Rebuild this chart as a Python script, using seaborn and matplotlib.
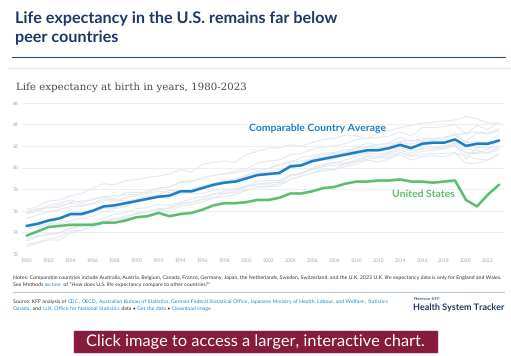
import numpy as np
import pandas as pd
import matplotlib
matplotlib.use("Agg")
import matplotlib.pyplot as plt
from matplotlib.font_manager import FontProperties
from matplotlib.textpath import TextToPath
import seaborn as sns

years = list(range(1980, 2024))

comparable_avg = [
    74.6, 74.8, 75.1, 75.3, 75.7, 75.7, 76.0, 76.4, 76.5, 76.7,
    76.9, 77.1, 77.3, 77.4, 77.8, 77.8, 78.1, 78.4, 78.6, 78.7,
    79.0, 79.3, 79.4, 79.5, 80.1, 80.2, 80.6, 80.8, 81.0, 81.2,
    81.4, 81.6, 81.6, 81.8, 82.1, 81.8, 82.2, 82.3, 82.3, 82.6,
    82.0, 82.2, 82.2, 82.5]

united_states = [
    73.7, 74.1, 74.5, 74.6, 74.7, 74.7, 74.7, 74.9, 74.9, 75.1,
    75.4, 75.5, 75.8, 75.5, 75.7, 75.8, 76.1, 76.5, 76.7, 76.7,
    76.8, 77.0, 77.0, 77.2, 77.6, 77.6, 77.8, 78.1, 78.2, 78.5,
    78.7, 78.7, 78.8, 78.8, 78.9, 78.7, 78.7, 78.6, 78.7, 78.8,
    77.0, 76.4, 77.5, 78.4]

japan = [
    76.1, 76.4, 76.9, 77.0, 77.4, 77.6, 78.1, 78.5, 78.4, 78.8,
    78.9, 79.1, 79.2, 79.4, 79.8, 79.6, 80.3, 80.5, 80.6, 80.5,
    81.2, 81.5, 81.8, 81.8, 82.1, 82.0, 82.3, 82.6, 82.7, 83.0,
    82.9, 82.7, 83.2, 83.4, 83.7, 83.9, 84.1, 84.2, 84.3, 84.4,
    84.7, 84.5, 84.1, 84.1]
switzerland = [
    75.7, 76.0, 76.3, 76.3, 76.8, 76.9, 77.0, 77.3, 77.4, 77.5,
    77.5, 77.8, 78.1, 78.2, 78.6, 78.7, 79.0, 79.3, 79.4, 79.7,
    79.9, 80.4, 80.6, 80.7, 81.2, 81.3, 81.7, 81.9, 82.0, 82.2,
    82.6, 82.7, 82.8, 82.9, 83.3, 82.9, 83.7, 83.7, 83.8, 84.0,
    83.1, 83.9, 83.5, 84.2]
sweden = [
    75.8, 76.1, 76.5, 76.7, 77.0, 76.7, 77.1, 77.3, 77.1, 77.7,
    77.7, 77.7, 78.1, 78.2, 78.7, 78.8, 79.0, 79.3, 79.4, 79.5,
    79.7, 79.9, 79.9, 80.2, 80.6, 80.6, 80.8, 81.0, 81.2, 81.4,
    81.6, 81.9, 81.8, 82.0, 82.3, 82.2, 82.4, 82.5, 82.6, 83.2,
    82.4, 83.2, 83.1, 83.4]
australia = [
    74.6, 74.7, 74.7, 75.4, 75.5, 75.6, 75.8, 76.2, 76.3, 76.4,
    77.0, 77.4, 77.5, 77.9, 77.9, 77.9, 78.1, 78.5, 78.8, 78.9,
    79.3, 79.7, 79.9, 80.3, 80.5, 80.9, 81.1, 81.3, 81.4, 81.6,
    81.8, 82.0, 82.1, 82.2, 82.4, 82.5, 82.5, 82.6, 82.8, 83.0,
    83.2, 83.3, 83.2, 83.6]
france = [
    74.3, 74.5, 74.8, 74.8, 75.1, 75.3, 75.5, 75.9, 76.2, 76.4,
    77.0, 77.2, 77.4, 77.4, 77.8, 78.0, 78.2, 78.5, 78.6, 78.9,
    79.2, 79.3, 79.4, 79.3, 80.3, 80.3, 80.9, 81.2, 81.3, 81.4,
    81.8, 82.3, 82.1, 82.3, 82.8, 82.4, 82.7, 82.7, 82.8, 83.0,
    82.3, 82.4, 82.3, 83.1]
canada = [
    75.3, 75.6, 75.9, 76.1, 76.4, 76.4, 76.6, 76.9, 76.9, 77.2,
    77.4, 77.6, 77.8, 77.7, 77.8, 78.0, 78.3, 78.5, 78.6, 78.9,
    79.3, 79.5, 79.6, 79.8, 80.0, 80.2, 80.5, 80.7, 80.8, 81.1,
    81.2, 81.4, 81.6, 81.7, 81.8, 81.9, 82.0, 81.9, 82.0, 82.3,
    81.7, 81.6, 81.3, 81.7]
austria = [
    72.7, 73.0, 73.3, 73.3, 73.9, 74.2, 74.5, 74.8, 75.2, 75.5,
    75.8, 75.9, 76.1, 76.3, 76.6, 76.8, 77.1, 77.5, 77.8, 78.0,
    78.3, 78.7, 78.8, 78.8, 79.3, 79.5, 79.9, 80.2, 80.5, 80.4,
    80.7, 81.1, 81.0, 81.3, 81.6, 81.3, 81.8, 81.7, 81.8, 82.0,
    81.3, 81.3, 81.4, 81.9]
belgium = [
    73.4, 73.7, 73.9, 74.0, 74.4, 74.6, 74.9, 75.3, 75.7, 75.8,
    76.2, 76.3, 76.6, 76.5, 76.8, 77.1, 77.3, 77.6, 77.6, 77.7,
    77.9, 78.2, 78.2, 78.3, 78.9, 79.2, 79.5, 79.9, 79.8, 80.1,
    80.3, 80.7, 80.5, 80.8, 81.4, 81.1, 81.5, 81.6, 81.7, 82.1,
    80.8, 81.9, 81.8, 82.5]
germany = [
    72.9, 73.1, 73.4, 73.6, 74.1, 74.2, 74.5, 75.0, 75.2, 75.3,
    75.4, 75.5, 76.0, 76.0, 76.4, 76.6, 76.8, 77.2, 77.6, 77.8,
    78.2, 78.5, 78.6, 78.6, 79.2, 79.4, 79.8, 80.1, 80.2, 80.3,
    80.5, 80.8, 80.9, 80.9, 81.2, 80.7, 81.0, 81.1, 81.0, 81.3,
    81.1, 80.8, 80.7, 81.2]
netherlands = [
    75.9, 76.2, 76.3, 76.5, 76.7, 76.5, 76.7, 77.1, 77.0, 76.9,
    77.1, 77.3, 77.3, 77.1, 77.6, 77.6, 77.6, 77.9, 78.0, 78.0,
    78.2, 78.4, 78.5, 78.7, 79.3, 79.5, 79.9, 80.3, 80.4, 80.7,
    81.0, 81.3, 81.2, 81.4, 81.8, 81.6, 81.7, 81.8, 81.9, 82.2,
    81.4, 81.4, 81.7, 82.0]
united_kingdom = [
    73.2, 73.6, 73.8, 73.9, 74.4, 74.6, 74.7, 75.1, 75.3, 75.4,
    75.7, 75.9, 76.2, 76.2, 76.7, 76.8, 77.0, 77.2, 77.3, 77.5,
    77.9, 78.2, 78.3, 78.5, 78.9, 79.2, 79.5, 79.7, 79.8, 80.4,
    80.6, 81.0, 81.0, 81.1, 81.4, 81.0, 81.2, 81.3, 81.3, 81.4,
    80.4, 80.4, 80.7, 81.3]

peer_countries = {
    "Australia": australia, "Austria": austria, "Belgium": belgium,
    "Canada": canada, "France": france, "Germany": germany, "Japan": japan,
    "Netherlands": netherlands, "Sweden": sweden, "Switzerland": switzerland,
    "United Kingdom": united_kingdom,
}

y_ticks = [72, 74, 76, 78, 80, 82, 84, 86]
x_ticks = list(range(1980, 2023, 2))

title = "Life expectancy in the U.S. remains far below\npeer countries"
subtitle = "Life expectancy at birth in years, 1980-2023"
avg_label = "Comparable Country Average"
us_label = "United States"
banner = "Click image to access a larger, interactive chart."

# ---------------------------------------------------------------
W, H = 511, 356
sns.set_theme(style="white")
plt.rcParams["font.family"] = ["Lato", "DejaVu Sans"]
plt.rcParams["text.hinting"] = "no_hinting"

fig = plt.figure(figsize=(W / 100, H / 100), dpi=100)
fig.patch.set_facecolor("white")

def fx(px):
    return px / W

def fy(py):
    return 1 - py / H

ax = fig.add_axes([fx(22), fy(254), fx(505) - fx(22), fy(102.7) - fy(254)])

peer_df = pd.concat(
    [pd.DataFrame({"year": years, "value": v, "country": k}) for k, v in peer_countries.items()],
    ignore_index=True)
sns.lineplot(data=peer_df, x="year", y="value", units="country", estimator=None,
             color="#e5e9ef", linewidth=0.8, ax=ax, legend=False)

main_df = pd.DataFrame({"year": years, "avg": comparable_avg, "us": united_states})
sns.lineplot(data=main_df, x="year", y="avg", color="#1b7fc6", linewidth=1.9, ax=ax)
sns.lineplot(data=main_df, x="year", y="us", color="#5cbd70", linewidth=1.9, ax=ax)

ax.set_xlim(1979.57, 2023.55)
ax.set_ylim(72, 86)
ax.set_yticks(y_ticks)
ax.set_xticks(x_ticks)
ax.set_xlabel("")
ax.set_ylabel("")
for s in ax.spines.values():
    s.set_visible(False)
ax.grid(axis="y", color="#eceef2", linewidth=0.8)
ax.grid(axis="x", visible=False)
ax.set_axisbelow(True)
ax.tick_params(axis="both", length=0, labelsize=3.6, labelcolor="#a8a8a8", pad=3)
ax.tick_params(axis="y", pad=2.5)

ax.text(2006.5, 83.6, avg_label, color="#1b7fc6", fontsize=7.5, fontweight="bold",
        ha="center", va="center")
ax.text(2016.1, 77.55, us_label, color="#5cbd70", fontsize=7.5, fontweight="bold",
        ha="center", va="center")

# Header
fig.text(fx(15), fy(28), title, color="#1e3768", fontsize=11.6, fontweight="bold",
         ha="left", va="center", linespacing=1.4)
fig.add_artist(plt.Line2D([fx(12), fx(505)], [fy(57.3), fy(57.3)], color="#2e4a7a", linewidth=0.8))
fig.add_artist(plt.Line2D([fx(8), fx(511)], [fy(68.3), fy(68.3)], color="#e4e7ec", linewidth=0.8))
fig.text(fx(16), fy(87), subtitle, color="#4a4a4a", fontsize=7.4, family="DejaVu Serif",
         ha="left", va="center")

# Footer: multi-colour lines, positioned by glyph advance widths
ttp = TextToPath()

def _w(s, prop):
    return ttp.get_text_width_height_descent(s, prop, ismath=False)[0]

def advance_px(s, size):
    prop = FontProperties(family=["Lato", "DejaVu Sans"], size=size)
    return (_w("|" + s + "|", prop) - _w("||", prop)) * 100 / 72

def segments(x_px, y_px, parts, size):
    prefix = ""
    for txt, col in parts:
        x = x_px + (advance_px(prefix, size) if prefix else 0)
        fig.text(fx(x), fy(y_px), txt, color=col, fontsize=size,
                 ha="left", va="center")
        prefix += txt

dark = "#333333"
link = "#1a86cf"
fs = 3.8
segments(13, 277.5, [("Notes: Comparable countries include Australia, Austria, Belgium, Canada, France, Germany, Japan, the Netherlands, Sweden, Switzerland, and the U.K. 2023 U.K. life expectancy data is only for England and Wales.", dark)], fs)
segments(13, 285, [("See Methods ", dark), ("section", link),
                   (" of \u201cHow does U.S. life expectancy compare to other countries?\u201d", dark)], fs)
fig.add_artist(plt.Line2D([fx(13), fx(504)], [fy(291.7), fy(291.7)], color="#b9c4d6", linewidth=0.8))
segments(13, 301.5, [("Source: KFF analysis of ", dark), ("CDC", link), (", ", dark), ("OECD", link),
                     (", ", dark), ("Australian Bureau of Statistics", link), (", ", dark),
                     ("German Federal Statistical Office", link), (", ", dark),
                     ("Japanese Ministry of Health, Labour, and Welfare", link), (", ", dark),
                     ("Statistics", link)], fs)
segments(13, 308.5, [("Canada", link), (", and ", dark), ("U.K. Office for National Statistics", link),
                     (" data \u2022 ", dark), ("Get the data", link), (" \u2022 ", dark),
                     ("Download image", link)], fs)

fig.text(fx(414), fy(298.5), "Peterson-KFF", color="#1e3768", fontsize=3.2, ha="left", va="center")
fig.text(fx(413), fy(308), "Health System Tracker", color="#1e3768", fontsize=6.5,
         fontweight="bold", ha="left", va="center")

# Banner
fig.add_artist(plt.Rectangle((fx(74), fy(351.7)), fx(436.7) - fx(74), fy(330.7) - fy(351.7),
                             color="#861b3b", transform=fig.transFigure))
fig.text(fx(255.8), fy(341.5), banner, color="white", fontsize=11.8, ha="center", va="center")

fig.savefig("out.png", dpi=100, facecolor="white")
